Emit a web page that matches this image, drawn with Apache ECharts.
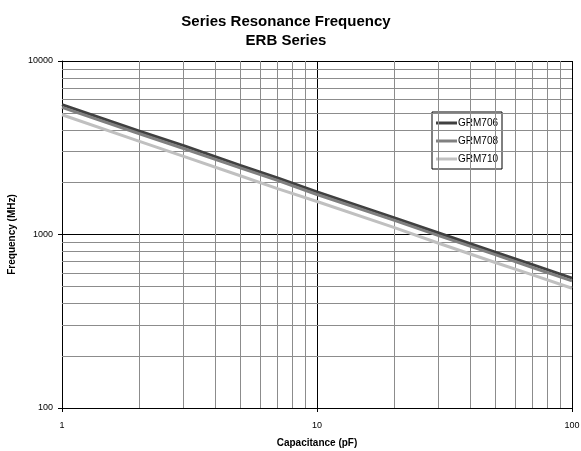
<!DOCTYPE html>
<html lang="en">
<head>
    <meta charset="UTF-8">
    <title>Series Resonance Frequency - ERB Series</title>
    <script src="https://cdn.jsdelivr.net/npm/echarts@6/dist/echarts.min.js"></script>
    <style>
        *{ padding: 0; margin: 0; }
        #chart{ width: 581px; height: 451px; background: #fff; }
    </style>
</head>
<body>
<div id="chart"></div>
<script>
    // capacitance points (pF)
    var capacitance = [1, 2, 3, 5, 7, 10, 20, 30, 50, 70, 100];
    var grm706 = [5600, 3950, 3250, 2500, 2120, 1760, 1250, 1020, 790, 670, 560];
    var grm708 = [5400, 3820, 3130, 2420, 2050, 1700, 1210, 985, 765, 645, 540];
    var grm710 = [4900, 3450, 2820, 2180, 1840, 1550, 1100, 890, 690, 585, 490];
    var seriesNames = ['GRM706', 'GRM708', 'GRM710'];
    var seriesColors = ['#404040', '#808080', '#c0c0c0'];
    // minor grid positions (2..9 in every decade)
    var minorX = [2, 3, 4, 5, 6, 7, 8, 9, 20, 30, 40, 50, 60, 70, 80, 90];
    var minorY = [200, 300, 400, 500, 600, 700, 800, 900, 2000, 3000, 4000, 5000, 6000, 7000, 8000, 9000];

    function pairs(ys) {
        return capacitance.map(function (c, i) { return [c, ys[i]]; });
    }

    var font = 'Liberation Sans, Arial, sans-serif';
    var chart = echarts.init(document.getElementById('chart'));

    var minorLines = minorX.map(function (v) { return { xAxis: v }; })
        .concat(minorY.map(function (v) { return { yAxis: v }; }));

    var lineSeries = [grm706, grm708, grm710].map(function (ys, i) {
        return {
            name: seriesNames[i],
            type: 'line',
            data: pairs(ys),
            symbol: 'none',
            z: 5,
            lineStyle: { color: seriesColors[i], width: 3 },
            itemStyle: { color: seriesColors[i] }
        };
    });

    chart.setOption({
        backgroundColor: '#ffffff',
        animation: false,
        title: {
            text: 'Series Resonance Frequency\nERB Series',
            left: 281,
            textAlign: 'center',
            top: 7,
            textStyle: { fontFamily: font, fontSize: 15, fontWeight: 'bold', color: '#000', lineHeight: 19 }
        },
        legend: {
            data: seriesNames,
            orient: 'vertical',
            left: 432,
            top: 112,
            backgroundColor: '#fff',
            borderColor: '#000',
            borderWidth: 1,
            borderRadius: 0,
            padding: [6, 4, 5, 4],
            itemGap: 8,
            itemWidth: 21,
            itemHeight: 3,
            icon: 'rect',
            textStyle: { fontFamily: font, fontSize: 10, color: '#000', padding: [0, 0, 0, -4] }
        },
        grid: { left: 62, right: 9, top: 61, bottom: 43, outerBoundsMode: 'none' },
        xAxis: {
            type: 'log',
            logBase: 10,
            min: 1,
            max: 100,
            name: 'Capacitance (pF)',
            nameLocation: 'middle',
            nameGap: 30,
            nameTextStyle: { fontFamily: font, fontSize: 10, fontWeight: 'bold', color: '#000' },
            axisLine: { lineStyle: { color: '#000', width: 1 } },
            axisTick: { show: true, length: 4, lineStyle: { color: '#000' } },
            axisLabel: { fontFamily: font, fontSize: 9, color: '#000', margin: 13, formatter: function (v) { return String(v); } },
            splitLine: { show: true, lineStyle: { color: '#000', width: 1 } }
        },
        yAxis: {
            type: 'log',
            logBase: 10,
            min: 100,
            max: 10000,
            name: 'Frequency (MHz)',
            nameLocation: 'middle',
            nameGap: 40,
            nameTextStyle: { fontFamily: font, fontSize: 10, fontWeight: 'bold', color: '#000' },
            axisLine: { lineStyle: { color: '#000', width: 1 } },
            axisTick: { show: true, length: 4, lineStyle: { color: '#000' } },
            axisLabel: { fontFamily: font, fontSize: 9, color: '#000', margin: 9, formatter: function (v) { return String(v); } },
            splitLine: { show: true, lineStyle: { color: '#000', width: 1 } }
        },
        series: [{
            name: 'grid-minor',
            type: 'line',
            data: [],
            z: 1,
            markLine: {
                silent: true,
                symbol: ['none', 'none'],
                label: { show: false },
                animation: false,
                lineStyle: { color: '#8c8c8c', width: 1, type: 'solid' },
                data: minorLines
            }
        }].concat(lineSeries)
    });
</script>
</body>
</html>
